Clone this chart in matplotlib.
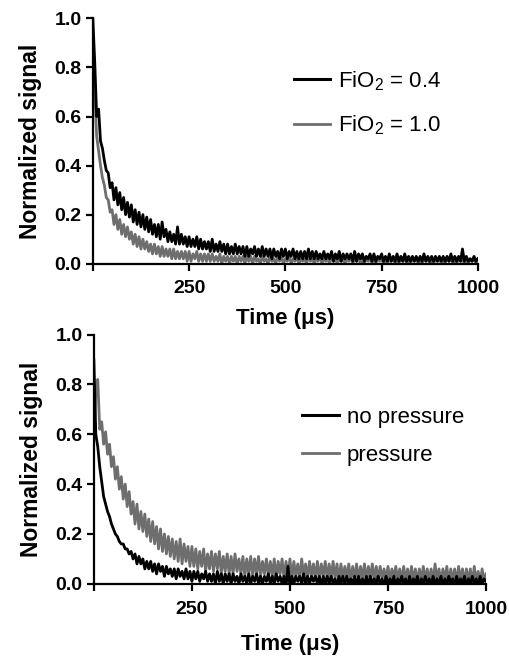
import numpy as np
import matplotlib
matplotlib.use("Agg")
import matplotlib.pyplot as plt
from matplotlib.lines import Line2D

plt.rcParams['font.family'] = ['Liberation Sans', 'DejaVu Sans']
plt.rcParams['mathtext.fontset'] = 'custom'
plt.rcParams['mathtext.rm'] = 'Liberation Sans'
plt.rcParams['mathtext.default'] = 'regular'

# time grid (us), one sample every 5 us
time_us = np.arange(0, 1001, 5)

# top panel: FiO2 = 0.4 (black) and FiO2 = 1.0 (gray)
fio2_04 = [
    1.00, 0.82, 0.60, 0.63, 0.50, 0.47, 0.42, 0.38, 0.37, 0.31,
    0.33, 0.26, 0.31, 0.24, 0.29, 0.22, 0.27, 0.20, 0.25, 0.19,
    0.24, 0.17, 0.22, 0.16, 0.21, 0.15, 0.20, 0.14, 0.19, 0.13,
    0.18, 0.12, 0.16, 0.11, 0.16, 0.10, 0.17, 0.11, 0.14, 0.09,
    0.13, 0.09, 0.12, 0.08, 0.15, 0.08, 0.12, 0.08, 0.11, 0.07,
    0.11, 0.07, 0.10, 0.07, 0.11, 0.06, 0.10, 0.06, 0.09, 0.06,
    0.09, 0.05, 0.10, 0.05, 0.08, 0.05, 0.09, 0.05, 0.08, 0.04,
    0.08, 0.04, 0.07, 0.04, 0.08, 0.04, 0.07, 0.04, 0.07, 0.03,
    0.07, 0.03, 0.06, 0.04, 0.07, 0.03, 0.06, 0.03, 0.07, 0.03,
    0.06, 0.03, 0.06, 0.02, 0.06, 0.03, 0.05, 0.02, 0.06, 0.03,
    0.06, 0.02, 0.05, 0.03, 0.06, 0.02, 0.05, 0.02, 0.05, 0.02,
    0.05, 0.02, 0.06, 0.02, 0.05, 0.02, 0.05, 0.02, 0.04, 0.02,
    0.05, 0.02, 0.04, 0.02, 0.05, 0.01, 0.04, 0.02, 0.05, 0.01,
    0.04, 0.02, 0.04, 0.02, 0.04, 0.01, 0.05, 0.01, 0.04, 0.02,
    0.04, 0.01, 0.03, 0.02, 0.04, 0.01, 0.04, 0.01, 0.03, 0.02,
    0.04, 0.01, 0.03, 0.01, 0.04, 0.01, 0.03, 0.01, 0.04, 0.01,
    0.03, 0.01, 0.04, 0.01, 0.03, 0.01, 0.03, 0.01, 0.03, 0.01,
    0.03, 0.01, 0.04, 0.01, 0.03, 0.01, 0.03, 0.01, 0.03, 0.01,
    0.03, 0.01, 0.03, 0.01, 0.03, 0.01, 0.04, 0.01, 0.03, 0.01,
    0.03, 0.01, 0.06, 0.01, 0.03, 0.01, 0.02, 0.01, 0.03, 0.01,
    0.02,
]
fio2_10 = [
    0.82, 0.70, 0.52, 0.46, 0.40, 0.35, 0.32, 0.27, 0.26, 0.21,
    0.22, 0.16, 0.20, 0.14, 0.18, 0.12, 0.16, 0.11, 0.15, 0.10,
    0.13, 0.08, 0.12, 0.07, 0.11, 0.06, 0.10, 0.06, 0.09, 0.05,
    0.08, 0.04, 0.08, 0.04, 0.07, 0.03, 0.07, 0.03, 0.06, 0.03,
    0.06, 0.02, 0.06, 0.02, 0.05, 0.02, 0.05, 0.02, 0.05, 0.01,
    0.05, 0.01, 0.04, 0.02, 0.05, 0.01, 0.04, 0.01, 0.04, 0.01,
    0.04, 0.01, 0.04, 0.01, 0.03, 0.01, 0.04, 0.00, 0.03, 0.01,
    0.03, 0.00, 0.03, 0.01, 0.03, 0.00, 0.03, 0.01, 0.03, 0.00,
    0.03, 0.01, 0.03, 0.00, 0.03, 0.01, 0.02, 0.00, 0.03, 0.01,
    0.02, 0.00, 0.03, 0.01, 0.02, 0.00, 0.03, 0.01, 0.03, 0.00,
    0.02, 0.01, 0.03, 0.00, 0.02, 0.01, 0.03, 0.00, 0.02, 0.01,
    0.02, 0.00, 0.03, 0.01, 0.02, 0.00, 0.02, 0.01, 0.03, 0.00,
    0.02, 0.01, 0.02, 0.00, 0.03, 0.01, 0.02, 0.00, 0.02, 0.01,
    0.02, 0.00, 0.02, 0.01, 0.03, 0.00, 0.02, 0.01, 0.02, 0.00,
    0.02, 0.00, 0.02, 0.01, 0.02, 0.00, 0.03, 0.00, 0.02, 0.01,
    0.02, 0.00, 0.02, 0.00, 0.02, 0.01, 0.02, 0.00, 0.02, 0.00,
    0.02, 0.01, 0.02, 0.00, 0.02, 0.00, 0.02, 0.01, 0.02, 0.00,
    0.02, 0.00, 0.02, 0.01, 0.02, 0.00, 0.02, 0.00, 0.02, 0.01,
    0.02, 0.00, 0.02, 0.00, 0.02, 0.01, 0.02, 0.00, 0.02, 0.00,
    0.02, 0.01, 0.02, 0.00, 0.02, 0.00, 0.02, 0.01, 0.02, 0.00,
    0.02,
]

# bottom panel: no pressure (black) and pressure (gray)
no_pressure = [
    0.90, 0.60, 0.55, 0.47, 0.41, 0.35, 0.32, 0.29, 0.27, 0.24,
    0.22, 0.20, 0.19, 0.17, 0.16, 0.16, 0.14, 0.14, 0.12, 0.13,
    0.10, 0.12, 0.08, 0.11, 0.08, 0.10, 0.06, 0.09, 0.06, 0.09,
    0.05, 0.08, 0.04, 0.08, 0.05, 0.07, 0.03, 0.07, 0.04, 0.06,
    0.03, 0.06, 0.02, 0.06, 0.03, 0.05, 0.02, 0.06, 0.02, 0.05,
    0.01, 0.05, 0.02, 0.05, 0.01, 0.04, 0.02, 0.05, 0.01, 0.04,
    0.01, 0.04, 0.00, 0.05, 0.01, 0.04, 0.00, 0.04, 0.01, 0.04,
    0.00, 0.04, 0.01, 0.03, 0.00, 0.04, 0.01, 0.03, 0.00, 0.04,
    0.00, 0.03, 0.01, 0.04, 0.00, 0.03, 0.00, 0.03, 0.01, 0.04,
    0.00, 0.03, 0.00, 0.04, 0.01, 0.03, 0.00, 0.03, -0.01, 0.07,
    -0.01, 0.03, 0.00, 0.03, 0.01, 0.03, 0.00, 0.04, 0.00, 0.03,
    0.00, 0.03, 0.01, 0.03, 0.00, 0.03, -0.01, 0.03, 0.00, 0.03,
    0.00, 0.03, 0.00, 0.02, -0.01, 0.03, 0.00, 0.03, 0.00, 0.03,
    0.00, 0.02, 0.00, 0.03, -0.01, 0.03, 0.00, 0.02, 0.00, 0.03,
    -0.01, 0.03, 0.00, 0.02, 0.00, 0.03, 0.00, 0.02, -0.01, 0.03,
    0.00, 0.02, 0.00, 0.03, -0.01, 0.02, 0.00, 0.03, 0.00, 0.02,
    -0.01, 0.03, 0.00, 0.02, 0.00, 0.03, -0.01, 0.02, 0.00, 0.03,
    0.00, 0.02, -0.01, 0.03, 0.00, 0.02, 0.00, 0.03, -0.01, 0.02,
    0.00, 0.03, 0.00, 0.02, -0.01, 0.03, 0.00, 0.02, 0.00, 0.03,
    -0.01, 0.02, 0.00, 0.03, 0.00, 0.02, -0.01, 0.03, 0.00, 0.02,
    0.01,
]
pressure = [
    0.58, 0.78, 0.82, 0.62, 0.65, 0.56, 0.61, 0.52, 0.56, 0.47,
    0.51, 0.42, 0.47, 0.38, 0.43, 0.34, 0.40, 0.31, 0.37, 0.28,
    0.33, 0.24, 0.32, 0.22, 0.29, 0.21, 0.28, 0.19, 0.26, 0.17,
    0.25, 0.16, 0.23, 0.14, 0.22, 0.13, 0.20, 0.12, 0.19, 0.11,
    0.18, 0.10, 0.17, 0.09, 0.18, 0.08, 0.16, 0.09, 0.15, 0.07,
    0.15, 0.07, 0.14, 0.06, 0.13, 0.07, 0.14, 0.05, 0.12, 0.06,
    0.13, 0.05, 0.12, 0.06, 0.13, 0.04, 0.11, 0.05, 0.12, 0.04,
    0.11, 0.04, 0.12, 0.05, 0.10, 0.04, 0.11, 0.03, 0.10, 0.04,
    0.11, 0.03, 0.10, 0.04, 0.11, 0.03, 0.09, 0.04, 0.10, 0.03,
    0.09, 0.03, 0.10, 0.02, 0.09, 0.04, 0.10, 0.02, 0.09, 0.03,
    0.10, 0.02, 0.09, 0.03, 0.08, 0.02, 0.10, 0.03, 0.08, 0.02,
    0.09, 0.03, 0.08, 0.02, 0.09, 0.02, 0.08, 0.03, 0.09, 0.02,
    0.08, 0.02, 0.09, 0.02, 0.08, 0.01, 0.08, 0.02, 0.07, 0.02,
    0.08, 0.01, 0.07, 0.02, 0.08, 0.01, 0.07, 0.02, 0.08, 0.01,
    0.07, 0.02, 0.08, 0.01, 0.07, 0.01, 0.07, 0.02, 0.06, 0.01,
    0.07, 0.01, 0.06, 0.02, 0.07, 0.01, 0.06, 0.01, 0.07, 0.01,
    0.06, 0.01, 0.07, 0.01, 0.06, 0.00, 0.06, 0.01, 0.07, 0.01,
    0.06, 0.01, 0.06, 0.00, 0.08, 0.01, 0.06, 0.00, 0.06, 0.01,
    0.07, 0.00, 0.06, 0.01, 0.06, 0.00, 0.07, 0.01, 0.06, 0.00,
    0.06, 0.01, 0.06, 0.00, 0.07, 0.01, 0.05, 0.00, 0.06, 0.01,
    0.04,
]

x_ticks = [0, 250, 500, 750, 1000]
x_labels = ["", "250", "500", "750", "1000"]
y_ticks = [0.0, 0.2, 0.4, 0.6, 0.8, 1.0]

GRAY = "#6e6e6e"


def style_axis(ax, xpad):
    ax.set_xlim(0, 1000)
    ax.set_ylim(0, 1.0)
    ax.spines['top'].set_visible(False)
    ax.spines['right'].set_visible(False)
    for s in ('left', 'bottom'):
        ax.spines[s].set_linewidth(1.6)
    ax.set_xticks(x_ticks)
    ax.set_xticklabels(x_labels)
    ax.set_yticks(y_ticks)
    ax.set_yticklabels(["%.1f" % v for v in y_ticks])
    ax.tick_params(direction='out', length=5, width=1.6, labelsize=14, pad=3)
    ax.tick_params(axis='x', pad=7)
    for lab in ax.get_xticklabels() + ax.get_yticklabels():
        lab.set_fontweight('bold')
    ax.set_xlabel("Time (\u03bcs)", fontsize=16, fontweight='bold', labelpad=xpad)
    ax.set_ylabel("Normalized signal", fontsize=16.5, fontweight='bold', labelpad=9)


fig = plt.figure(figsize=(5.10, 6.56), dpi=100)

ax1 = fig.add_axes([0.182, 0.598, 0.755, 0.374])
style_axis(ax1, 8)
ax1.plot(time_us, fio2_10, color=GRAY, lw=2.0)
ax1.plot(time_us, fio2_04, color='black', lw=2.0)
h1 = [Line2D([], [], color='black', lw=2.2), Line2D([], [], color=GRAY, lw=2.0)]
ax1.legend(h1, ["FiO$_2$ = 0.4", "FiO$_2$ = 1.0"], loc='upper left',
           bbox_to_anchor=(0.47, 0.875), frameon=False, fontsize=16,
           handlelength=1.65, handletextpad=0.35, labelspacing=0.95)

ax2 = fig.add_axes([0.184, 0.110, 0.769, 0.380])
style_axis(ax2, 12)
ax2.plot(time_us, pressure, color=GRAY, lw=2.0)
ax2.plot(time_us, no_pressure, color='black', lw=2.0)
h2 = [Line2D([], [], color='black', lw=2.2), Line2D([], [], color=GRAY, lw=2.0)]
ax2.legend(h2, ["no pressure", "pressure"], loc='upper left',
           bbox_to_anchor=(0.48, 0.79), frameon=False, fontsize=16,
           handlelength=1.65, handletextpad=0.35, labelspacing=0.75)

fig.savefig("out.png", dpi=100)
